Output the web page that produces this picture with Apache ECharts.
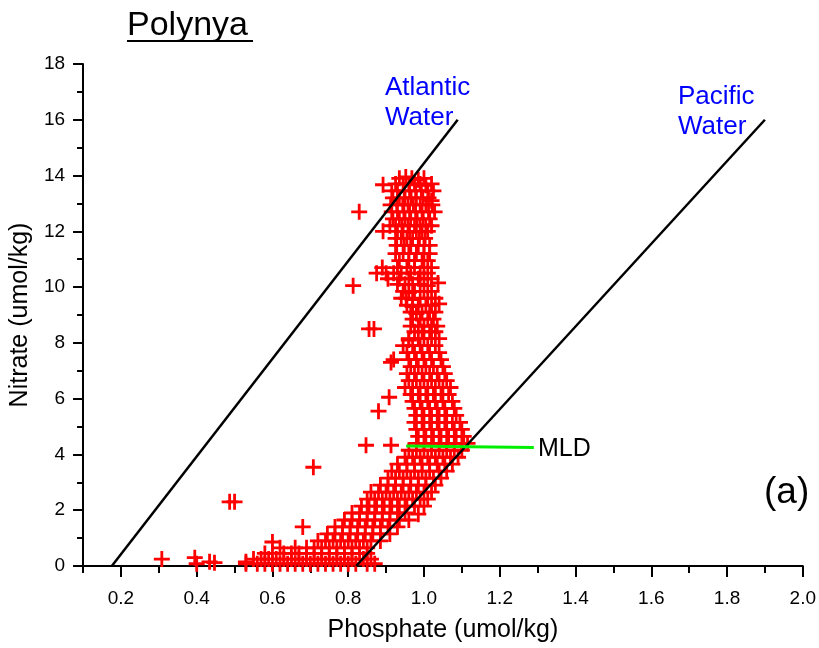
<!DOCTYPE html>
<html>
<head>
<meta charset="utf-8">
<script src="https://cdn.jsdelivr.net/npm/echarts@6/dist/echarts.min.js"></script>
<style>
  html, body { margin: 0; padding: 0; background: #fff; }
  #main { width: 819px; height: 648px; }
</style>
</head>
<body>
<div id="main"></div>
<script>
// tick positions on the phosphate axis
var xMajorTicks = [0.2, 0.4, 0.6, 0.8, 1.0, 1.2, 1.4, 1.6, 1.8, 2.0];
var xMinorTicks = [0.1, 0.3, 0.5, 0.7, 0.9, 1.1, 1.3, 1.5, 1.7, 1.9];

// reference lines [phosphate, nitrate]
var atlanticLine = [[0.176, 0], [1.089, 16]];
var pacificLine = [[0.821, 0], [1.9, 16]];
var mldLine = [[0.953, 4.3], [1.29, 4.25]];

// samples [phosphate, nitrate]
var outliers = [
  [0.308, 0.25], [0.395, 0.3], [0.40, 0.08], [0.434, 0.15], [0.447, 0.12],
  [0.487, 2.3], [0.50, 2.3], [0.53, 0.15], [0.708, 3.54], [0.60, 0.86],
  [0.829, 12.7], [0.892, 13.67], [0.892, 12.0], [0.813, 10.05], [0.855, 8.5],
  [0.868, 8.5], [0.913, 7.3], [0.92, 7.4], [0.908, 6.05], [0.88, 5.55],
  [0.847, 4.33], [0.913, 4.33], [0.945, 7.9], [0.96, 8.1]
];

var upperCluster = [
  [0.935, 13.9], [0.952, 13.95], [0.968, 13.9], [0.985, 13.85], [1.0, 13.9],
  [0.925, 13.7], [0.945, 13.7], [0.96, 13.7], [0.975, 13.7], [0.99, 13.7], [1.005, 13.65], [1.02, 13.7],
  [0.915, 13.45], [0.93, 13.45], [0.948, 13.45], [0.962, 13.45], [0.978, 13.45], [0.993, 13.45], [1.01, 13.45], [1.025, 13.45],
  [0.918, 13.2], [0.935, 13.2], [0.95, 13.2], [0.966, 13.2], [0.98, 13.2], [0.997, 13.2], [1.012, 13.2], [1.02, 13.1],
  [0.912, 12.95], [0.928, 12.95], [0.944, 12.95], [0.958, 12.95], [0.972, 12.95], [0.99, 12.95], [1.005, 12.95], [1.022, 12.95],
  [0.915, 12.7], [0.93, 12.7], [0.947, 12.7], [0.962, 12.7], [0.978, 12.7], [0.995, 12.7], [1.012, 12.7], [1.028, 12.7],
  [0.918, 12.45], [0.935, 12.45], [0.95, 12.45], [0.965, 12.45], [0.982, 12.45], [0.998, 12.45], [1.015, 12.45],
  [0.91, 12.2], [0.925, 12.2], [0.942, 12.2], [0.958, 12.2], [0.975, 12.2], [0.99, 12.2], [1.005, 12.2], [1.02, 12.2],
  [0.93, 12.0], [0.945, 12.0], [0.962, 12.0], [0.98, 12.0], [0.995, 12.0], [1.01, 12.0],
  [0.925, 11.75], [0.94, 11.75], [0.955, 11.75], [0.97, 11.75], [0.988, 11.75], [1.003, 11.75],
  [0.928, 11.5], [0.948, 11.5], [0.965, 11.5], [0.985, 11.5], [1.0, 11.5], [1.015, 11.5]
];

var upperColumn = [
  [0.925, 11.2], [0.945, 11.2], [0.96, 11.2], [0.98, 11.2], [1.0, 11.2], [1.015, 11.2],
  [0.935, 10.95], [0.96, 10.95], [0.975, 10.95], [0.995, 10.95], [1.01, 10.95],
  [0.89, 10.7], [0.93, 10.7], [0.955, 10.7], [0.975, 10.7], [1.0, 10.7], [1.02, 10.7],
  [0.875, 10.5], [0.9, 10.5], [0.92, 10.5], [0.94, 10.5], [0.965, 10.5], [0.99, 10.5], [1.01, 10.5],
  [0.905, 10.3], [0.935, 10.3], [0.96, 10.3], [0.985, 10.3], [1.0, 10.3], [1.02, 10.3],
  [0.93, 10.1], [0.95, 10.1], [0.97, 10.1], [0.99, 10.1], [1.01, 10.05], [1.037, 10.15],
  [0.945, 9.85], [0.96, 9.8], [0.975, 9.85], [1.0, 9.85], [1.02, 9.85],
  [0.94, 9.6], [0.953, 9.6], [0.97, 9.55], [0.99, 9.6], [1.01, 9.6], [1.03, 9.6],
  [0.955, 9.35], [0.97, 9.3], [0.985, 9.35], [1.005, 9.35], [1.02, 9.35], [1.04, 9.4],
  [0.965, 9.1], [0.98, 9.05], [0.995, 9.1], [1.015, 9.1], [1.03, 9.1],
  [0.97, 8.85], [0.99, 8.85], [1.01, 8.85], [1.025, 8.85],
  [0.965, 8.6], [0.985, 8.6], [1.0, 8.6], [1.02, 8.6], [1.035, 8.6]
];

var midColumn = [
  [0.975, 8.4], [0.995, 8.4], [1.015, 8.4], [1.03, 8.4],
  [0.96, 8.15], [0.985, 8.15], [1.0, 8.15], [1.02, 8.15], [1.04, 8.15],
  [0.97, 7.9], [0.99, 7.9], [1.01, 7.9], [1.03, 7.9],
  [0.955, 7.65], [0.975, 7.65], [0.995, 7.65], [1.015, 7.65], [1.04, 7.65],
  [0.96, 7.4], [0.98, 7.4], [1.0, 7.4], [1.02, 7.4], [1.045, 7.4],
  [0.965, 7.15], [0.985, 7.15], [1.005, 7.15], [1.025, 7.15], [1.05, 7.15],
  [0.955, 6.9], [0.975, 6.9], [0.995, 6.9], [1.015, 6.9], [1.035, 6.9], [1.055, 6.9],
  [0.96, 6.65], [0.98, 6.65], [1.0, 6.65], [1.02, 6.65], [1.04, 6.65], [1.06, 6.65],
  [0.95, 6.4], [0.97, 6.4], [0.99, 6.4], [1.01, 6.4], [1.03, 6.4], [1.05, 6.4], [1.07, 6.4],
  [0.965, 6.15], [0.985, 6.15], [1.005, 6.15], [1.025, 6.15], [1.045, 6.15], [1.065, 6.15],
  [0.97, 5.9], [0.99, 5.9], [1.01, 5.9], [1.03, 5.9], [1.05, 5.9], [1.075, 5.9],
  [0.975, 5.65], [0.995, 5.65], [1.015, 5.65], [1.035, 5.65], [1.055, 5.65], [1.08, 5.65],
  [0.98, 5.4], [1.0, 5.4], [1.02, 5.4], [1.04, 5.4], [1.06, 5.4], [1.085, 5.4],
  [0.975, 5.15], [0.995, 5.15], [1.015, 5.15], [1.035, 5.15], [1.055, 5.15], [1.075, 5.15], [1.095, 5.15],
  [0.98, 4.9], [1.0, 4.9], [1.02, 4.9], [1.04, 4.9], [1.06, 4.9], [1.08, 4.9], [1.1, 4.9],
  [0.985, 4.65], [1.005, 4.65], [1.025, 4.65], [1.045, 4.65], [1.065, 4.65], [1.085, 4.65], [1.105, 4.65],
  [0.98, 4.4], [1.0, 4.4], [1.02, 4.4], [1.04, 4.4], [1.06, 4.4], [1.08, 4.4], [1.1, 4.4], [1.115, 4.4]
];

var diagonalBand = [
  [0.96, 4.15], [0.98, 4.15], [1.0, 4.15], [1.02, 4.15], [1.04, 4.15], [1.06, 4.15], [1.08, 4.15], [1.1, 4.15],
  [0.95, 3.9], [0.97, 3.9], [0.99, 3.9], [1.01, 3.9], [1.03, 3.9], [1.05, 3.9], [1.07, 3.9], [1.09, 3.9],
  [0.93, 3.65], [0.955, 3.65], [0.975, 3.65], [0.995, 3.65], [1.015, 3.65], [1.035, 3.65], [1.055, 3.65], [1.075, 3.65],
  [0.915, 3.4], [0.935, 3.4], [0.955, 3.4], [0.975, 3.4], [0.995, 3.4], [1.015, 3.4], [1.04, 3.4], [1.06, 3.4],
  [0.905, 3.15], [0.925, 3.15], [0.945, 3.15], [0.965, 3.15], [0.985, 3.15], [1.005, 3.15], [1.025, 3.15], [1.045, 3.15],
  [0.885, 2.9], [0.905, 2.9], [0.925, 2.9], [0.945, 2.9], [0.965, 2.9], [0.985, 2.9], [1.005, 2.9], [1.03, 2.9],
  [0.86, 2.65], [0.88, 2.65], [0.9, 2.65], [0.92, 2.65], [0.94, 2.65], [0.96, 2.65], [0.98, 2.65], [1.0, 2.65], [1.02, 2.65],
  [0.85, 2.4], [0.87, 2.4], [0.89, 2.4], [0.91, 2.4], [0.93, 2.4], [0.95, 2.4], [0.97, 2.4], [0.99, 2.4], [1.01, 2.4],
  [0.835, 2.15], [0.855, 2.15], [0.875, 2.15], [0.895, 2.15], [0.915, 2.15], [0.935, 2.15], [0.955, 2.15], [0.975, 2.15], [1.0, 2.15],
  [0.81, 1.9], [0.83, 1.9], [0.85, 1.9], [0.87, 1.9], [0.89, 1.9], [0.91, 1.9], [0.93, 1.9], [0.95, 1.9], [0.985, 1.86],
  [0.79, 1.65], [0.81, 1.65], [0.83, 1.65], [0.85, 1.65], [0.87, 1.65], [0.89, 1.65], [0.91, 1.65], [0.935, 1.65], [0.96, 1.65],
  [0.68, 1.4], [0.765, 1.4], [0.785, 1.4], [0.805, 1.4], [0.825, 1.4], [0.845, 1.4], [0.865, 1.4], [0.885, 1.4], [0.905, 1.4], [0.93, 1.4],
  [0.745, 1.15], [0.765, 1.15], [0.785, 1.15], [0.805, 1.15], [0.825, 1.15], [0.845, 1.15], [0.865, 1.15], [0.885, 1.15], [0.91, 1.15],
  [0.72, 0.9], [0.74, 0.9], [0.76, 0.9], [0.78, 0.9], [0.8, 0.9], [0.82, 0.9], [0.84, 0.9], [0.86, 0.9], [0.885, 0.9]
];

var bottomBand = [
  [0.62, 0.65], [0.66, 0.65], [0.69, 0.65], [0.71, 0.65], [0.73, 0.65], [0.75, 0.65], [0.77, 0.65], [0.79, 0.65], [0.81, 0.65], [0.83, 0.65], [0.85, 0.65],
  [0.58, 0.45], [0.6, 0.45], [0.63, 0.45], [0.65, 0.45], [0.67, 0.45], [0.69, 0.45], [0.71, 0.45], [0.73, 0.45], [0.75, 0.45], [0.77, 0.45], [0.79, 0.45], [0.81, 0.45], [0.83, 0.45], [0.85, 0.45],
  [0.55, 0.25], [0.57, 0.25], [0.59, 0.25], [0.61, 0.25], [0.63, 0.25], [0.65, 0.25], [0.67, 0.25], [0.69, 0.25], [0.71, 0.25], [0.73, 0.25], [0.75, 0.25], [0.77, 0.25], [0.79, 0.25], [0.81, 0.25], [0.84, 0.25], [0.86, 0.25],
  [0.53, 0.08], [0.56, 0.08], [0.58, 0.08], [0.6, 0.08], [0.62, 0.08], [0.64, 0.08], [0.66, 0.08], [0.68, 0.08], [0.7, 0.08], [0.72, 0.08], [0.74, 0.08], [0.76, 0.08], [0.78, 0.08], [0.8, 0.08], [0.82, 0.08], [0.85, 0.08], [0.87, 0.08]
];

var samples = outliers.concat(upperCluster, upperColumn, midColumn, diagonalBand, bottomBand);

var FONT = 'Liberation Sans, Arial, sans-serif';
var plusSymbol = 'path://M6.6,0H9.4V16H6.6ZM0,6.6H16V9.4H0Z';

var myChart = echarts.init(document.getElementById('main'));
option = {
    backgroundColor: '#fff',
    animation: false,
    grid: {
        left: 81,
        right: 16,
        top: 64,
        bottom: 81
    },
    xAxis: [{
        type: 'value',
        min: 0.1,
        max: 2.0,
        name: 'Phosphate (umol/kg)',
        nameLocation: 'middle',
        nameGap: 52,
        nameTextStyle: { fontFamily: FONT, fontSize: 25, color: '#000' },
        splitLine: { show: false },
        axisLine: { onZero: false, lineStyle: { color: '#000', width: 2 } },
        axisTick: { customValues: xMajorTicks, length: 11, lineStyle: { color: '#000', width: 2 } },
        axisLabel: {
            customValues: xMajorTicks,
            margin: 23,
            fontFamily: FONT,
            fontSize: 19,
            color: '#000',
            formatter: function (v) { return v.toFixed(1); }
        }
    }, {
        type: 'value',
        min: 0.1,
        max: 2.0,
        position: 'bottom',
        splitLine: { show: false },
        axisLine: { show: false },
        axisTick: { customValues: xMinorTicks, length: 7, lineStyle: { color: '#000', width: 2 } },
        axisLabel: { show: false }
    }],
    yAxis: [{
        type: 'value',
        min: 0,
        max: 18,
        interval: 2,
        name: 'Nitrate (umol/kg)',
        nameLocation: 'middle',
        nameGap: 43,
        nameTextStyle: { fontFamily: FONT, fontSize: 25, color: '#000' },
        splitLine: { show: false },
        axisLine: { onZero: false, lineStyle: { color: '#000', width: 2 } },
        axisTick: { length: 10, lineStyle: { color: '#000', width: 2 } },
        minorTick: { show: true, splitNumber: 2, length: 6, lineStyle: { color: '#000', width: 2 } },
        axisLabel: { margin: 18, fontFamily: FONT, fontSize: 19, color: '#000' }
    }],
    series: [{
        name: 'samples',
        type: 'scatter',
        data: samples,
        symbol: plusSymbol,
        symbolSize: 16,
        itemStyle: { color: '#ff0000', opacity: 1 },
        z: 2
    }, {
        name: 'Atlantic',
        type: 'line',
        data: atlanticLine,
        symbol: 'none',
        lineStyle: { color: '#000', width: 2.5 },
        z: 3
    }, {
        name: 'Pacific',
        type: 'line',
        data: pacificLine,
        symbol: 'none',
        lineStyle: { color: '#000', width: 2.5 },
        z: 3
    }, {
        name: 'MLD',
        type: 'line',
        data: mldLine,
        symbol: 'none',
        lineStyle: { color: '#00ee00', width: 3 },
        z: 4
    }],
    graphic: [{
        type: 'text',
        left: 127,
        top: 9,
        style: { text: 'Polynya', font: '34px Liberation Sans, Arial, sans-serif', fill: '#000' }
    }, {
        type: 'rect',
        shape: { x: 127, y: 40, width: 126, height: 2 },
        style: { fill: '#000' }
    }, {
        type: 'text',
        left: 385,
        top: 73,
        style: { text: 'Atlantic\nWater', font: '26px Liberation Sans, Arial, sans-serif', lineHeight: 30, fill: '#0000ff' }
    }, {
        type: 'text',
        left: 678,
        top: 82,
        style: { text: 'Pacific\nWater', font: '26px Liberation Sans, Arial, sans-serif', lineHeight: 30, fill: '#0000ff' }
    }, {
        type: 'text',
        left: 538,
        top: 437,
        style: { text: 'MLD', font: '25px Liberation Sans, Arial, sans-serif', fill: '#000' }
    }, {
        type: 'text',
        left: 764,
        top: 474,
        style: { text: '(a)', font: '37px Liberation Sans, Arial, sans-serif', fill: '#000' }
    }]
};
myChart.setOption(option);
</script>
</body>
</html>
